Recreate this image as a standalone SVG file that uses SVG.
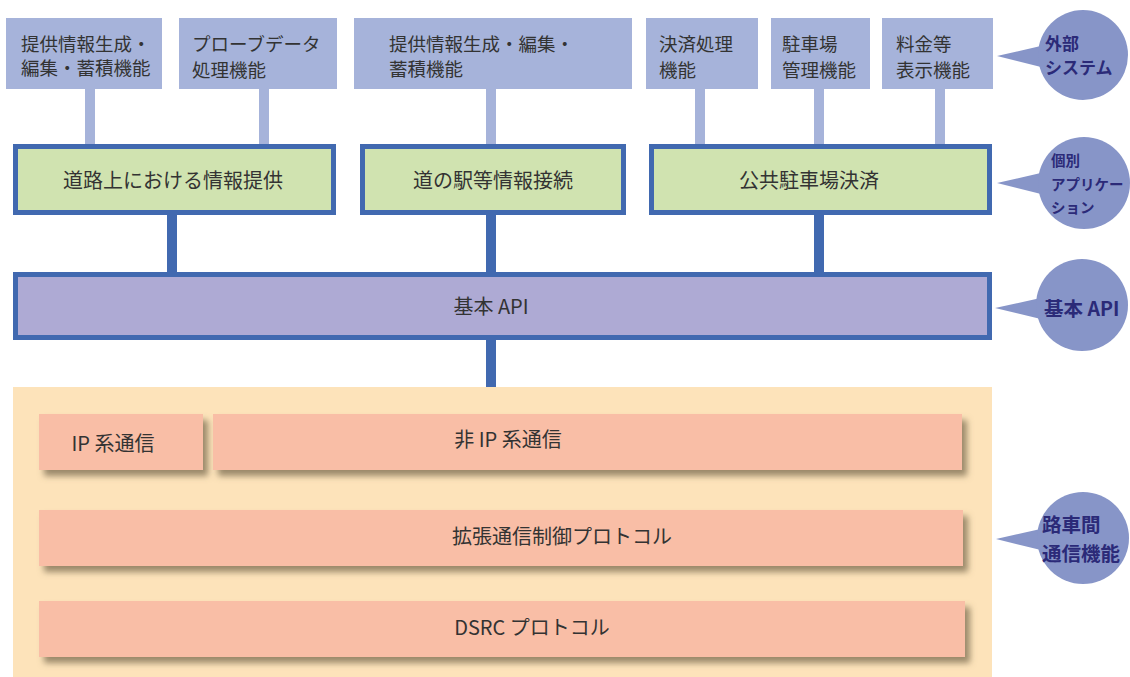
<svg xmlns="http://www.w3.org/2000/svg" width="1130" height="677" viewBox="0 0 1130 677">
<style>
.ext{fill:#a6b3da}
.extc{fill:#a6b3da}
.app{fill:#d0e3b0;stroke:#4169b0;stroke-width:5}
.api{fill:#aeaad4;stroke:#4169b0;stroke-width:5}
.dk{fill:#4169b0}
.sal{fill:#f9bea6}
.t{font-family:"Noto Sans CJK JP","Noto Sans",sans-serif;fill:#333;font-size:18.5px}
.b{font-size:20px}
.tc{text-anchor:middle}
.call{fill:#8795c8}
.ct{font-family:"Noto Sans CJK JP","Noto Sans",sans-serif;fill:#2b2a78;font-weight:bold}
.c1{font-size:17px}
.c2{font-size:14.5px}
.c3{font-size:19.5px}
</style>
<defs>
<filter id="sh" x="-5%" y="-20%" width="115%" height="160%">
<feDropShadow dx="5" dy="6" stdDeviation="3" flood-color="#7a6a50" flood-opacity="0.75"/>
</filter>
</defs>
<rect width="1130" height="677" fill="#fff"/>
<g id="connectors">
<rect class="extc" x="85" y="88" width="10" height="58"/>
<rect class="extc" x="259" y="88" width="10" height="58"/>
<rect class="extc" x="486" y="88" width="10" height="58"/>
<rect class="extc" x="695" y="88" width="10" height="58"/>
<rect class="extc" x="814" y="88" width="10" height="58"/>
<rect class="extc" x="935" y="88" width="10" height="58"/>
<rect class="dk" x="167" y="214" width="10" height="60"/>
<rect class="dk" x="486" y="214" width="10" height="60"/>
<rect class="dk" x="814" y="214" width="10" height="60"/>
<rect class="dk" x="486" y="339" width="10" height="50"/>
</g>
<g id="ext1"><rect class="ext" x="6" y="18" width="156" height="71"/><text class="t" x="21" y="51">提供情報生成・</text><text class="t" x="21" y="75">編集・蓄積機能</text></g>
<g id="ext2"><rect class="ext" x="179" y="18" width="158" height="71"/><text class="t" x="192" y="51">プローブデータ</text><text class="t" x="192" y="77">処理機能</text></g>
<g id="ext3"><rect class="ext" x="354" y="18" width="278" height="71"/><text class="t" x="389" y="51">提供情報生成・編集・</text><text class="t" x="389" y="76">蓄積機能</text></g>
<g id="ext4"><rect class="ext" x="646" y="18" width="112" height="71"/><text class="t" x="659" y="51">決済処理</text><text class="t" x="659" y="77">機能</text></g>
<g id="ext5"><rect class="ext" x="771" y="18" width="99" height="71"/><text class="t" x="782" y="51">駐車場</text><text class="t" x="782" y="77">管理機能</text></g>
<g id="ext6"><rect class="ext" x="882" y="18" width="111" height="71"/><text class="t" x="896" y="51">料金等</text><text class="t" x="896" y="77">表示機能</text></g>
<g id="app1"><rect class="app" x="15.5" y="146.5" width="318" height="66"/><text class="t b tc" x="173" y="188">道路上における情報提供</text></g>
<g id="app2"><rect class="app" x="362.5" y="146.5" width="261" height="66"/><text class="t b tc" x="493" y="188">道の駅等情報接続</text></g>
<g id="app3"><rect class="app" x="651.5" y="146.5" width="338" height="66"/><text class="t b tc" x="809" y="188">公共駐車場決済</text></g>
<g id="api"><rect class="api" x="15.5" y="274.5" width="974" height="63"/><text class="t b tc" x="491" y="314">基本 API</text></g>
<g id="comm">
<rect x="13" y="387" width="979" height="290" fill="#fde3ba"/>
<rect class="sal" filter="url(#sh)" x="39" y="414" width="164" height="56"/>
<rect class="sal" filter="url(#sh)" x="213" y="414" width="749" height="56"/>
<rect class="sal" filter="url(#sh)" x="39" y="510" width="924" height="56"/>
<rect class="sal" filter="url(#sh)" x="39" y="601" width="926" height="56"/>
</g>
<g id="ip"><text class="t b tc" x="113" y="451">IP 系通信</text></g>
<g id="nonip"><text class="t b tc" x="508" y="447">非 IP 系通信</text></g>
<g id="ext-proto"><text class="t b tc" x="562" y="544">拡張通信制御プロトコル</text></g>
<g id="dsrc"><text class="t b tc" x="532" y="635">DSRC プロトコル</text></g>
<g id="callout1"><polygon class="call" points="997,56 1045,45 1045,68"/><circle class="call" cx="1083" cy="55" r="45"/><text class="ct c1" x="1045" y="50">外部</text><text class="ct c1" x="1045" y="74">システム</text></g>
<g id="callout2"><polygon class="call" points="997,183 1045,172 1045,195"/><circle class="call" cx="1084" cy="183" r="46"/><text class="ct c2" x="1051" y="166">個別</text><text class="ct c2" x="1051" y="190">アプリケー</text><text class="ct c2" x="1051" y="213">ション</text></g>
<g id="callout3"><polygon class="call" points="995,308 1045,297 1045,320"/><circle class="call" cx="1082" cy="305" r="46"/><text class="ct c3" x="1044" y="316">基本 API</text></g>
<g id="callout4"><polygon class="call" points="996,539 1045,528 1045,551"/><circle class="call" cx="1083" cy="538" r="46"/><text class="ct c3" x="1042" y="532">路車間</text><text class="ct c3" x="1042" y="561">通信機能</text></g>
</svg>
